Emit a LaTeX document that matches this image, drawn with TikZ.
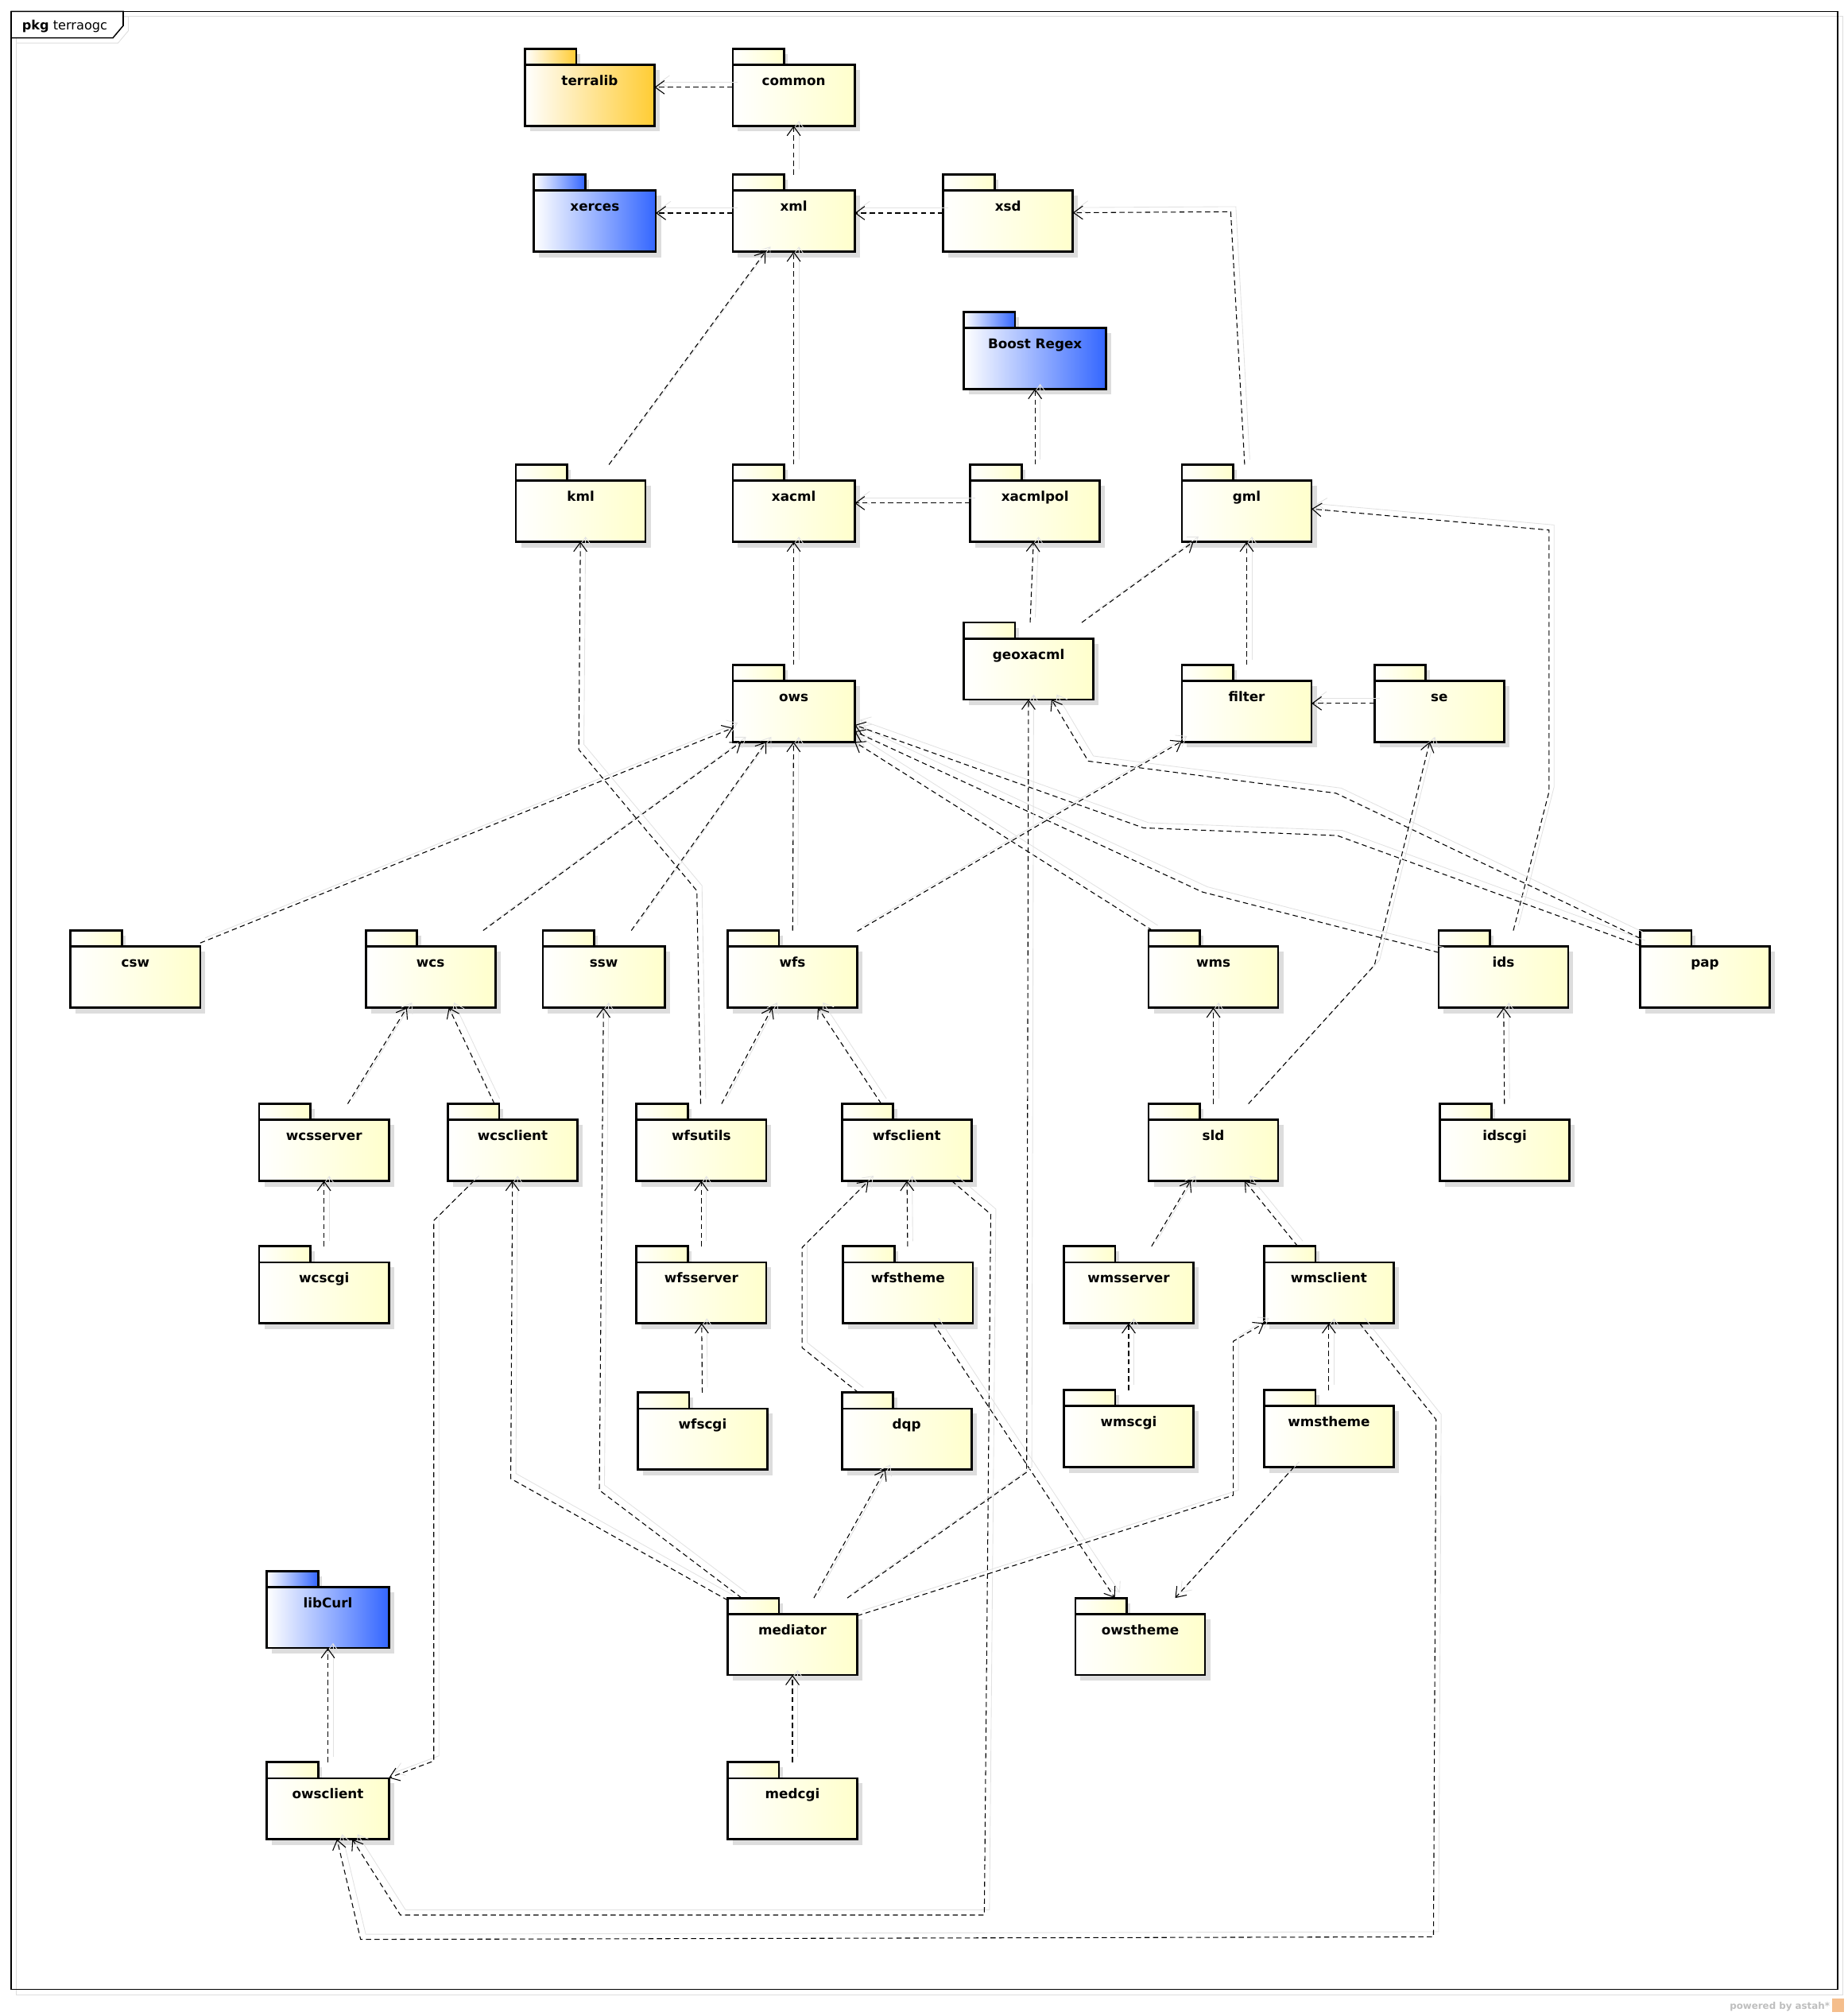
\documentclass[tikz,border=0pt]{standalone}
\usepackage{fontspec}
\setmainfont{DejaVu Sans}
\usetikzlibrary{arrows.meta,calc,backgrounds}

\definecolor{pkgyellow}{RGB}{255,255,204}
\definecolor{pkgorange}{RGB}{255,204,51}
\definecolor{pkgblue}{RGB}{51,102,255}
\definecolor{pkgshadow}{RGB}{221,221,221}
\definecolor{depshadow}{RGB}{226,226,226}
\definecolor{astahgray}{RGB}{190,190,190}
\definecolor{astahorange}{RGB}{245,190,140}

\tikzset{every picture/.style={line width=0.75pt}}
\tikzset{
  pkg/.style={anchor=north west, inner sep=0pt, minimum width=75pt, minimum height=44.25pt,
    text height=21pt, text depth=23.25pt, font=\fontsize{7.8}{9}\selectfont\bfseries},
  pkgnarrow/.style={minimum width=70.5pt},
  pkgwide/.style={minimum width=82.5pt},
  pkgline/.style={draw=black, line width=1.25pt},
  dep/.style={line width=0.5pt, dash pattern=on 3pt off 2pt,
    -{Straight Barb[length=5.4pt,width=7.8pt]},
    preaction={draw=depshadow, solid, transform canvas={shift={(4,4)}}}}
}

\begin{document}
\begin{tikzpicture}[x=0.75pt,y=0.75pt,yscale=-1,xscale=1]
	\useasboundingbox (0,0) rectangle (1440,1570.7);

	% Packages
	\node[pkg] (terralib) at (409,38) {terralib};
	\node[pkg,pkgnarrow] (common) at (571,38) {common};
	\node[pkg,pkgnarrow] (xerces) at (416,136) {xerces};
	\node[pkg,pkgnarrow] (xml) at (571,136) {xml};
	\node[pkg] (xsd) at (735,136) {xsd};
	\node[pkg,pkgwide] (boost) at (751,243) {Boost Regex};
	\node[pkg] (kml) at (402,362) {kml};
	\node[pkg,pkgnarrow] (xacml) at (571,362) {xacml};
	\node[pkg] (xacmlpol) at (756,362) {xacmlpol};
	\node[pkg] (gml) at (921,362) {gml};
	\node[pkg] (geoxacml) at (751,485) {geoxacml};
	\node[pkg,pkgnarrow] (ows) at (571,518) {ows};
	\node[pkg] (filter) at (921,518) {filter};
	\node[pkg] (se) at (1071,518) {se};
	\node[pkg] (csw) at (55,725) {csw};
	\node[pkg] (wcs) at (285,725) {wcs};
	\node[pkg,pkgnarrow] (ssw) at (423,725) {ssw};
	\node[pkg] (wfs) at (567,725) {wfs};
	\node[pkg] (wms) at (895,725) {wms};
	\node[pkg] (ids) at (1121,725) {ids};
	\node[pkg] (pap) at (1278,725) {pap};
	\node[pkg] (wcsserver) at (202,860) {wcsserver};
	\node[pkg] (wcsclient) at (349,860) {wcsclient};
	\node[pkg] (wfsutils) at (496,860) {wfsutils};
	\node[pkg] (wfsclient) at (656,860) {wfsclient};
	\node[pkg] (sld) at (895,860) {sld};
	\node[pkg] (idscgi) at (1122,860) {idscgi};
	\node[pkg] (wcscgi) at (202,971) {wcscgi};
	\node[pkg] (wfsserver) at (496,971) {wfsserver};
	\node[pkg] (wfstheme) at (657,971) {wfstheme};
	\node[pkg] (wmsserver) at (829,971) {wmsserver};
	\node[pkg] (wmsclient) at (985,971) {wmsclient};
	\node[pkg] (wfscgi) at (497,1085) {wfscgi};
	\node[pkg] (dqp) at (656,1085) {dqp};
	\node[pkg] (wmscgi) at (829,1083) {wmscgi};
	\node[pkg] (wmstheme) at (985,1083) {wmstheme};
	\node[pkg,pkgnarrow] (libcurl) at (208,1224) {libCurl};
	\node[pkg] (mediator) at (567,1245) {mediator};
	\node[pkg] (owstheme) at (838,1245) {owstheme};
	\node[pkg,pkgnarrow] (owsclient) at (208,1373) {owsclient};
	\node[pkg] (medcgi) at (567,1373) {medcgi};

	\begin{pgfonlayer}{background}
	%Shape: Frame
	\draw [draw=pkgshadow] (12.7,12.9) rectangle (1436,1554);
	\draw [line width=0.7pt] (8.7,8.9) rectangle (1432,1550);
	\draw [draw=pkgshadow] (12.7,12.9) -- (100,12.9) -- (100,24) -- (92,33.5) -- (12.7,33.5);
	\filldraw [fill=white, line width=0.7pt] (8.7,8.9) -- (96,8.9) -- (96,20) -- (88,29.5) -- (8.7,29.5) -- cycle;
	%Shape: Package folders
	\foreach \n/\c in {terralib/pkgorange,xerces/pkgblue,boost/pkgblue,libcurl/pkgblue,
		common/pkgyellow,xml/pkgyellow,xsd/pkgyellow,kml/pkgyellow,xacml/pkgyellow,xacmlpol/pkgyellow,
		gml/pkgyellow,geoxacml/pkgyellow,ows/pkgyellow,filter/pkgyellow,se/pkgyellow,csw/pkgyellow,
		wcs/pkgyellow,ssw/pkgyellow,wfs/pkgyellow,wms/pkgyellow,ids/pkgyellow,pap/pkgyellow,
		wcsserver/pkgyellow,wcsclient/pkgyellow,wfsutils/pkgyellow,wfsclient/pkgyellow,sld/pkgyellow,
		idscgi/pkgyellow,wcscgi/pkgyellow,wfsserver/pkgyellow,wfstheme/pkgyellow,wmsserver/pkgyellow,
		wmsclient/pkgyellow,wfscgi/pkgyellow,dqp/pkgyellow,wmscgi/pkgyellow,wmstheme/pkgyellow,
		mediator/pkgyellow,owstheme/pkgyellow,owsclient/pkgyellow,medcgi/pkgyellow}{
		\fill [pkgshadow] ($(\n.north west)+(4,4)$) rectangle ($(\n.north west)+(43,16.5)$);
		\fill [pkgshadow] ($(\n.north west)+(4,16.5)$) rectangle ($(\n.south east)+(4,4.5)$);
		\shade [pkgline, left color=white, right color=\c] (\n.north west) rectangle ($(\n.north west)+(40,12.5)$);
		\shade [pkgline, left color=white, right color=\c] ($(\n.north west)+(0,12.5)$) rectangle (\n.south east);
	}
	\end{pgfonlayer}

	% Bend points
	\coordinate (gmlbend) at (959,165);
	\coordinate (idsbend1) at (1207,617);
	\coordinate (idsbend2) at (1207,413);
	\coordinate (idsbend3) at (937,695);
	\coordinate (papbend1) at (1042,651);
	\coordinate (papbend2) at (891,645);
	\coordinate (papbend3) at (1041,618);
	\coordinate (papbend4) at (848,593);
	\coordinate (sldbend) at (1071,752);
	\coordinate (utilsbend1) at (543,694);
	\coordinate (utilsbend2) at (451,584);
	\coordinate (dqpbend1) at (625,1050);
	\coordinate (dqpbend2) at (625,972);
	\coordinate (wcscbend1) at (338,951);
	\coordinate (wcscbend2) at (338,1372);
	\coordinate (wfscbend1) at (772,946);
	\coordinate (wfscbend2) at (767,1492);
	\coordinate (wfscbend3) at (312,1492);
	\coordinate (wmscbend1) at (1119,1106);
	\coordinate (wmscbend2) at (1117,1509);
	\coordinate (wmscbend3) at (281,1511);
	\coordinate (medbend1) at (398,1152);
	\coordinate (medbend2) at (467,1161);
	\coordinate (medbend3) at (800,1147);
	\coordinate (medbend4) at (961,1165);
	\coordinate (medbend5) at (961,1045);

	% Dependencies
	\draw [dep] (common) -- (terralib);
	\draw [dep] (xml) -- (common);
	\draw [dep] (xml) -- (xerces);
	\draw [dep] (xsd) -- (xml);
	\draw [dep] (gml) -- (gmlbend) -- (xsd);
	\draw [dep] (kml) -- (xml);
	\draw [dep] (xacml) -- (xml);
	\draw [dep] (xacmlpol) -- (boost);
	\draw [dep] (xacmlpol) -- (xacml);
	\draw [dep] (ows) -- (xacml);
	\draw [dep] (geoxacml) -- (xacmlpol);
	\draw [dep] (geoxacml) -- (gml);
	\draw [dep] (filter) -- (gml);
	\draw [dep] (ids) -- (idsbend1) -- (idsbend2) -- (gml);
	\draw [dep] (se) -- (filter);
	\draw [dep] (csw) -- (ows);
	\draw [dep] (wcs) -- (ows);
	\draw [dep] (ssw) -- (ows);
	\draw [dep] (wfs) -- (ows);
	\draw [dep] (wms) -- (ows);
	\draw [dep] (ids) -- (idsbend3) -- (ows);
	\draw [dep] (pap) -- (papbend1) -- (papbend2) -- (ows);
	\draw [dep] (pap) -- (papbend3) -- (papbend4) -- (geoxacml);
	\draw [dep] (wfs) -- (filter);
	\draw [dep] (sld) -- (sldbend) -- (se);
	\draw [dep] (wfsutils) -- (utilsbend1) -- (utilsbend2) -- (kml);
	\draw [dep] (wcsserver) -- (wcs);
	\draw [dep] (wcsclient) -- (wcs);
	\draw [dep] (wfsutils) -- (wfs);
	\draw [dep] (wfsclient) -- (wfs);
	\draw [dep] (sld) -- (wms);
	\draw [dep] (idscgi) -- (ids);
	\draw [dep] (wcscgi) -- (wcsserver);
	\draw [dep] (wfsserver) -- (wfsutils);
	\draw [dep] (wfstheme) -- (wfsclient);
	\draw [dep] (wmsserver) -- (sld);
	\draw [dep] (wmsclient) -- (sld);
	\draw [dep] (wfscgi) -- (wfsserver);
	\draw [dep] (dqp) -- (dqpbend1) -- (dqpbend2) -- (wfsclient);
	\draw [dep] (wmscgi) -- (wmsserver);
	\draw [dep] (wmstheme) -- (wmsclient);
	\draw [dep] (wcsclient) -- (wcscbend1) -- (wcscbend2) -- (owsclient);
	\draw [dep] (wfsclient) -- (wfscbend1) -- (wfscbend2) -- (wfscbend3) -- (owsclient);
	\draw [dep] (wmsclient) -- (wmscbend1) -- (wmscbend2) -- (wmscbend3) -- (owsclient);
	\draw [dep] (wfstheme) -- (owstheme);
	\draw [dep] (wmstheme) -- (owstheme);
	\draw [dep] (mediator) -- (medbend1) -- (wcsclient);
	\draw [dep] (mediator) -- (medbend2) -- (ssw);
	\draw [dep] (mediator) -- (dqp);
	\draw [dep] (mediator) -- (medbend3) -- (geoxacml);
	\draw [dep] (mediator) -- (medbend4) -- (medbend5) -- (wmsclient);
	\draw [dep] (medcgi) -- (mediator);
	\draw [dep] (owsclient) -- (libcurl);

	% Text Node
	\node [anchor=base west, inner sep=0pt, font=\fontsize{7.5}{9}\selectfont] (title) at (17,23.5) {\textbf{pkg} terraogc};
	% Text Node
	\node [anchor=base east, inner sep=0pt, text=astahgray, font=\fontsize{5.5}{6}\selectfont\bfseries] (powered) at (1426,1565.5) {powered by astah*};
	\fill [astahorange] (1427.5,1557) rectangle (1437,1567.5);

\end{tikzpicture}
\end{document}
